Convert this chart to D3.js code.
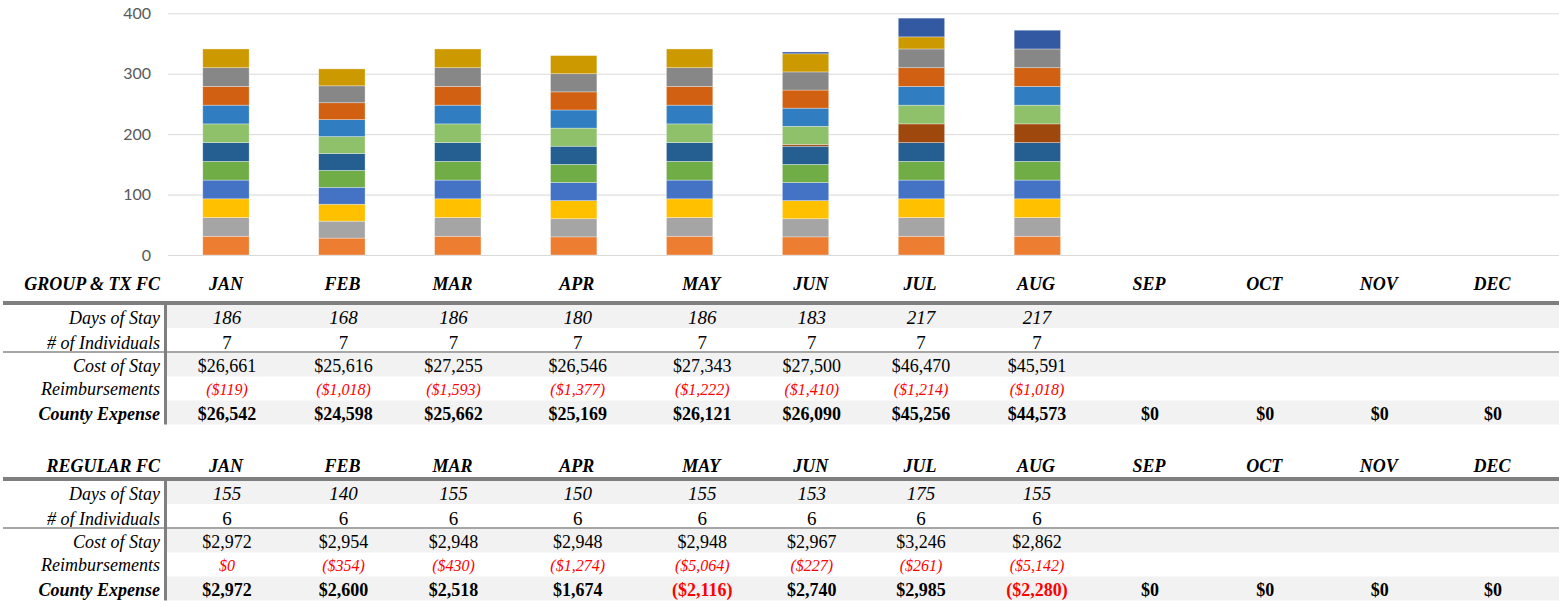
<!DOCTYPE html>
<html>
<head>
<meta charset="utf-8">
<script src="https://cdn.jsdelivr.net/npm/d3@7"></script>
<style>
  body { margin: 0; background: #fff; }
  svg { display: block; }
</style>
</head>
<body>
<svg id="chart" width="1559" height="601"></svg>
<script>
// ---- data ----
const months = ["JAN","FEB","MAR","APR","MAY","JUN","JUL","AUG","SEP","OCT","NOV","DEC"];
const yTicks = [0, 100, 200, 300, 400];

// days of stay per individual, JAN..AUG (stacked bottom -> top)
const grp1 = [31,28,31,30,31,30,31,31];
const grp2 = [31,28,31,30,31,30,31,31];
const grp3 = [31,28,31,30,31,30,31,31];
const grp4 = [31,28,31,30,31,30,31,31];
const grp5 = [31,28,31,30,31,30,31,31];
const grp6 = [31,28,31,30,31,30,31,31];
const grp7 = [0,0,0,0,0,3,31,31];
const reg1 = [31,28,31,30,31,30,31,31];
const reg2 = [31,28,31,30,31,30,31,31];
const reg3 = [31,28,31,30,31,30,31,31];
const reg4 = [31,28,31,30,31,30,31,31];
const reg5 = [31,28,31,30,31,30,20,0];
const reg6 = [0,0,0,0,0,3,31,31];

const groupDays = [186,168,186,180,186,183,217,217];
const groupIndividuals = [7,7,7,7,7,7,7,7];
const groupCost = [26661,25616,27255,26546,27343,27500,46470,45591];
const groupReimb = [-119,-1018,-1593,-1377,-1222,-1410,-1214,-1018];
const groupCounty = [26542,24598,25662,25169,26121,26090,45256,44573,0,0,0,0];

const regularDays = [155,140,155,150,155,153,175,155];
const regularIndividuals = [6,6,6,6,6,6,6,6];
const regularCost = [2972,2954,2948,2948,2948,2967,3246,2862];
const regularReimb = [0,-354,-430,-1274,-5064,-227,-261,-5142];
const regularCounty = [2972,2600,2518,1674,-2116,2740,2985,-2280,0,0,0,0];

// ---- styles / layout ----
const seriesList = [grp1,grp2,grp3,grp4,grp5,grp6,grp7,reg1,reg2,reg3,reg4,reg5,reg6];
const colors = ["#ED7D31","#A5A5A5","#FFC000","#4472C4","#70AD47","#255E91","#9E480E",
                "#8FC16A","#307DC1","#D26012","#878787","#CC9A00","#3359A2"];
const colX = [226,342.5,452.5,576.7,701.3,810.8,920,1036,1149,1264.3,1378.8,1492];
const W = 1559;

const svg = d3.select("#chart");

// ---- bar chart ----
const x = d3.scaleBand().domain(months).range([168, W]).paddingInner(0.6).paddingOuter(0.3);
const y = d3.scaleLinear().domain([0, 400]).range([255, 13.3]);

const keys = seriesList.map((d, i) => "s" + i);
const rows = months.slice(0, 8).map((m, i) => {
  const r = { month: m };
  seriesList.forEach((s, k) => r["s" + k] = s[i]);
  return r;
});
const stacked = d3.stack().keys(keys)(rows);

svg.append("g")
  .attr("transform", "translate(168,0)")
  .call(d3.axisLeft(y).tickValues(yTicks).tickSize(-(W - 168)).tickFormat(""))
  .call(g => g.select(".domain").remove())
  .call(g => g.selectAll("line").attr("stroke", "#D9D9D9").attr("stroke-width", 1));

svg.append("g")
  .attr("transform", "translate(168,0)")
  .call(d3.axisLeft(y).tickValues(yTicks).tickSize(0).tickPadding(17))
  .call(g => g.select(".domain").remove())
  .call(g => g.selectAll("text")
    .attr("fill", "#595959")
    .style("font-family", "Lato, 'Open Sans', sans-serif")
    .style("font-size", "16px"));

const layers = svg.append("g").selectAll("g")
  .data(stacked)
  .join("g")
  .attr("fill", (d, i) => colors[i]);

layers.selectAll("rect")
  .data(d => d.filter(p => p[1] - p[0] > 0))
  .join("rect")
  .attr("x", d => x(d.data.month))
  .attr("width", x.bandwidth())
  .attr("y", d => y(d[1]))
  .attr("height", d => y(d[0]) - y(d[1]))
  .attr("stroke", "#fff")
  .attr("stroke-opacity", 0.45)
  .attr("stroke-width", 0.7);

// ---- tables ----
const serif = "'Liberation Serif', 'Times New Roman', serif";
const money = v => v < 0 ? "($" + d3.format(",")(-v) + ")" : "$" + d3.format(",")(v);

function drawTable(titleBaseline, lineTop, title, days, indiv, cost, reimb, county) {
  const t = svg.append("g");
  t.append("text")
    .attr("x", 160).attr("y", titleBaseline)
    .attr("text-anchor", "end")
    .style("font-family", serif).style("font-size", "18px")
    .style("font-weight", "bold").style("font-style", "italic")
    .text(title);
  t.selectAll("text.hdr").data(months).join("text")
    .attr("class", "hdr")
    .attr("x", (d, i) => colX[i]).attr("y", titleBaseline)
    .attr("text-anchor", "middle")
    .style("font-family", serif).style("font-size", "18px")
    .style("font-weight", "bold").style("font-style", "italic")
    .text(d => d);

  const r0 = lineTop + 4;
  const rowDefs = [
    { label: "Days of Stay", top: r0, h: 23, shade: true, vals: days, fmt: d => d,
      size: 19, italic: true, bold: false, lblBold: false, drop: 4 },
    { label: "# of Individuals", top: r0 + 23, h: 23, shade: false, vals: indiv, fmt: d => d,
      size: 19, italic: false, bold: false, lblBold: false, drop: 2 },
    { label: "Cost of Stay", top: r0 + 48, h: 23.5, shade: true, vals: cost, fmt: money,
      size: 18, italic: false, bold: false, lblBold: false, drop: 5 },
    { label: "Reimbursements", top: r0 + 71.5, h: 24, shade: false, vals: reimb, fmt: money,
      size: 16, italic: true, bold: false, lblBold: false, drop: 6, red: true },
    { label: "County Expense", top: r0 + 95.5, h: 24, shade: true, vals: county, fmt: money,
      size: 18, italic: false, bold: true, lblBold: true, drop: 5 }
  ];

  rowDefs.forEach(r => {
    if (r.shade) {
      t.append("rect").attr("x", 167).attr("y", r.top).attr("width", W - 167).attr("height", r.h)
        .attr("fill", "#F2F2F2");
    }
    const base = r.top + r.h - r.drop;
    t.append("text")
      .attr("x", 160).attr("y", base)
      .attr("text-anchor", "end")
      .style("font-family", serif).style("font-size", "18px")
      .style("font-style", "italic").style("font-weight", r.lblBold ? "bold" : "normal")
      .attr("fill", "#000")
      .text(r.label);
    t.append("g").selectAll("text").data(r.vals).join("text")
      .attr("x", (d, i) => colX[i] + 1).attr("y", base)
      .attr("text-anchor", "middle")
      .style("font-family", serif).style("font-size", r.size + "px")
      .style("font-style", r.italic ? "italic" : "normal")
      .style("font-weight", r.bold ? "bold" : "normal")
      .attr("fill", d => (r.red || d < 0) ? "#FF0000" : "#000")
      .text(r.fmt);
  });

  // rules
  t.append("rect").attr("x", 3).attr("y", lineTop).attr("width", W - 3).attr("height", 4).attr("fill", "#7F7F7F");
  t.append("rect").attr("x", 3).attr("y", r0 + 46).attr("width", W - 3).attr("height", 2).attr("fill", "#A6A6A6");
  t.append("rect").attr("x", 164).attr("y", r0).attr("width", 3).attr("height", 119.5).attr("fill", "#7F7F7F");
}

drawTable(290, 301, "GROUP & TX FC", groupDays, groupIndividuals, groupCost, groupReimb, groupCounty);
drawTable(472, 477, "REGULAR FC", regularDays, regularIndividuals, regularCost, regularReimb, regularCounty);
</script>
</body>
</html>
